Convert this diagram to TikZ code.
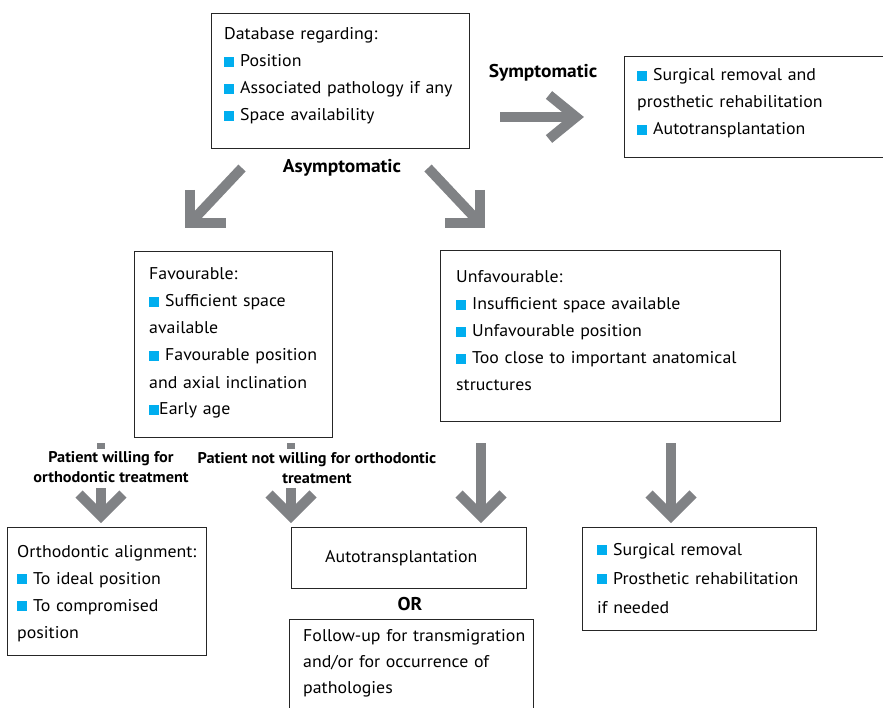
\documentclass[tikz,border=0pt]{standalone}
\usepackage{fontspec}
\setmainfont{PT Sans}[FakeStretch=1.05]
\definecolor{agray}{RGB}{128,130,133}
\definecolor{bcyan}{RGB}{0,174,239}
\newcommand\bsq{\textcolor{bcyan}{\rule{10pt}{10pt}}}
\newcommand\bul{\bsq\hspace{6pt}}
\tikzset{
  boxnode/.style={draw=black!85, line width=1pt, anchor=north west, inner sep=0pt},
  txt/.style={anchor=base west, inner sep=0pt, align=left, font=\fontsize{17}{27}\selectfont},
  lbl/.style={inner sep=0pt, font=\fontsize{18.5}{20}\selectfont\bfseries},
  slbl/.style={inner sep=0pt, align=center, font=\fontsize{15.5}{20}\selectfont\bfseries},
  garrow/.style={draw=agray, line width=10pt, line join=miter, miter limit=10},
}
\begin{document}
\begin{tikzpicture}[x=1pt,y=-1pt]
\useasboundingbox (0,0) rectangle (883,708);
\clip (0,0) rectangle (883,708);
% boxes
\node[boxnode, minimum width=258, minimum height=135] (db) at (211,13) {};
\node[txt, text width=250] (dbt) at (224,40) {Database regarding:\\\bul Position\\\bul Associated pathology if any\\\bul Space availability};

\node[boxnode, minimum width=280, minimum height=101] (sy) at (624,56) {};
\node[txt, text width=250] (syt) at (637,81) {\bul Surgical removal and\\prosthetic rehabilitation\\\bul Autotransplantation};

\node[boxnode, minimum width=198, minimum height=186] (fav) at (134,251) {};
\node[txt, text width=190] (favt) at (149,280) {Favourable:\\\bul Sufficient space\\available\\\bul Favourable position\\and axial inclination\\\bsq Early age};

\node[boxnode, minimum width=340, minimum height=171] (unf) at (440,250) {};
\node[txt, text width=320] (unft) at (456,283) {Unfavourable:\\\bul Insufficient space available\\\bul Unfavourable position\\\bul Too close to important anatomical\\structures};

\node[boxnode, minimum width=199, minimum height=128] (orth) at (7,527) {};
\node[txt, text width=195] (ortht) at (17,557) {Orthodontic alignment:\\\bul To ideal position\\\bul To compromised\\position};

\node[boxnode, minimum width=235, minimum height=61] (auto) at (291,527) {};
\node[txt] (autot) at (325,562) {Autotransplantation};
\node[lbl, anchor=base] (or) at (410,610) {OR};

\node[boxnode, minimum width=244, minimum height=120] (fol) at (289,619) {};
\node[txt, text width=240, font=\fontsize{17}{26}\selectfont] (folt) at (303,641) {Follow-up for transmigration\\and/or for occurrence of\\pathologies};

\node[boxnode, minimum width=234, minimum height=103] (sur) at (582,527) {};
\node[txt, text width=230, font=\fontsize{17}{29}\selectfont] (surt) at (597,555) {\bul Surgical removal\\\bul Prosthetic rehabilitation\\if needed};

% labels
\node[lbl, anchor=base] (sym) at (543,78) {Symptomatic};
\node[lbl, anchor=base] (asym) at (342,173) {Asymptomatic};
\node[slbl, anchor=base] (pw) at (111,482) {Patient willing for\\orthodontic treatment};
\node[slbl, anchor=base] (pnw) at (317,483) {Patient not willing for orthodontic\\treatment};

% arrows
\draw[garrow] (500,117) -- (577,117);
\draw[garrow] (549,95) -- (576,117) -- (549,139);

\draw[garrow] (242,168) -- (194,219);
\draw[garrow] (190,190) -- (190,223) -- (226,223);
\draw[garrow] (428,168) -- (476,219);
\draw[garrow] (480,190) -- (480,223) -- (445,223);

\draw[garrow] (481,443) -- (481,514);
\draw[garrow] (459,494) -- (481,516) -- (503,494);
\draw[garrow] (671,443) -- (671,514);
\draw[garrow] (649,494) -- (671,516) -- (693,494);

\fill[agray] (97,443) rectangle (105,449);
\fill[agray] (287,443) rectangle (295,449);
\draw[garrow] (101,488) -- (101,514);
\draw[garrow] (79,494) -- (101,516) -- (123,494);
\draw[garrow] (291,488) -- (291,514);
\draw[garrow] (269,494) -- (291,516) -- (313,494);
\end{tikzpicture}
\end{document}
